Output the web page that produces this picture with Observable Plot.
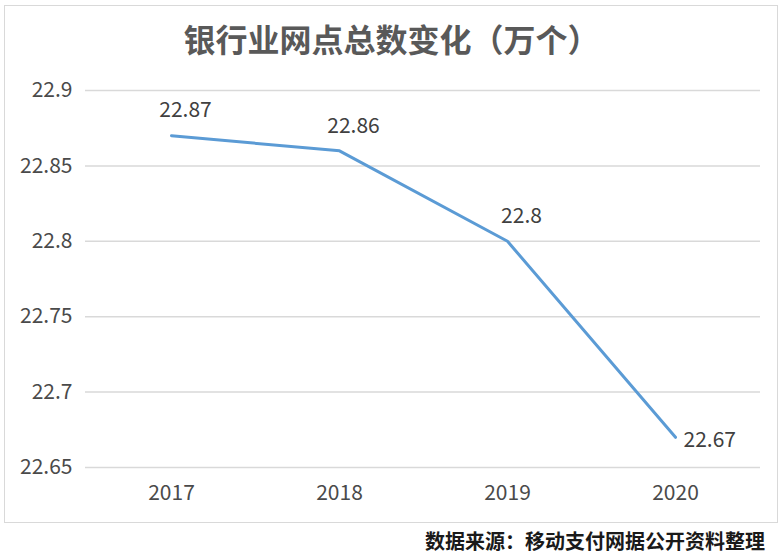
<!DOCTYPE html>
<html>
<head>
<meta charset="utf-8">
<script src="https://cdn.jsdelivr.net/npm/d3@7"></script>
<script src="https://cdn.jsdelivr.net/npm/@observablehq/plot@0.6"></script>
<style>
  html, body { margin: 0; padding: 0; background: #fff; }
  #wrap { position: relative; width: 783px; height: 559px; overflow: hidden; font-family: "Noto Sans CJK SC", "Noto Sans", sans-serif; }
  #frame { position: absolute; left: 4px; top: 5px; width: 772px; height: 516px; border: 1px solid #d9d9d9; box-sizing: content-box; }
  #title { position: absolute; left: 0; top: 15px; width: 783px; text-align: center; font-size: 32px; font-weight: bold; color: #595959; line-height: 46px; }
  #chart { position: absolute; left: 0; top: 60px; }
  #caption { position: absolute; right: 18px; top: 527px; font-size: 20px; font-weight: bold; color: #1a1a1a; line-height: 28px; }
</style>
</head>
<body>
<div id="wrap">
  <div id="frame"></div>
  <div id="title">银行业网点总数变化（万个）</div>
  <div id="chart"></div>
  <div id="caption">数据来源：移动支付网据公开资料整理</div>
</div>
<script>
const years = ["2017", "2018", "2019", "2020"];
const values = [22.87, 22.86, 22.8, 22.67];
const yTicks = [22.65, 22.7, 22.75, 22.8, 22.85, 22.9];

const data = years.map((y, i) => ({year: y, value: values[i], last: i === years.length - 1}));

const chart = Plot.plot({
  width: 783,
  height: 463,
  marginLeft: 85,
  marginRight: 23,
  marginTop: 30,
  marginBottom: 56,
  style: {fontFamily: "'Noto Sans CJK SC', 'Noto Sans', sans-serif", background: "transparent", overflow: "visible"},
  x: {type: "point", domain: years, padding: 0.5, label: null},
  y: {domain: [22.65, 22.9], label: null},
  marks: [
    Plot.gridY(yTicks, {stroke: "#d9d9d9", strokeOpacity: 1, strokeWidth: 1.5}),
    Plot.axisY(yTicks, {tickSize: 0, tickPadding: 13, fontSize: 21, fill: "#4a4a4a", tickFormat: d => String(d), label: null}),
    Plot.axisX({tickSize: 0, tickPadding: 18, fontSize: 21, fill: "#4a4a4a", label: null}),
    Plot.line(data, {x: "year", y: "value", stroke: "#5B9BD5", strokeWidth: 3}),
    Plot.text(data.filter(d => !d.last), {x: "year", y: "value", text: d => String(d.value), dx: 14, dy: -25, fontSize: 21, fill: "#404040"}),
    Plot.text(data.filter(d => d.last), {x: "year", y: "value", text: d => String(d.value), dx: 8, dy: 3, textAnchor: "start", fontSize: 21, fill: "#404040"})
  ]
});
document.getElementById("chart").appendChild(chart);
</script>
</body>
</html>
